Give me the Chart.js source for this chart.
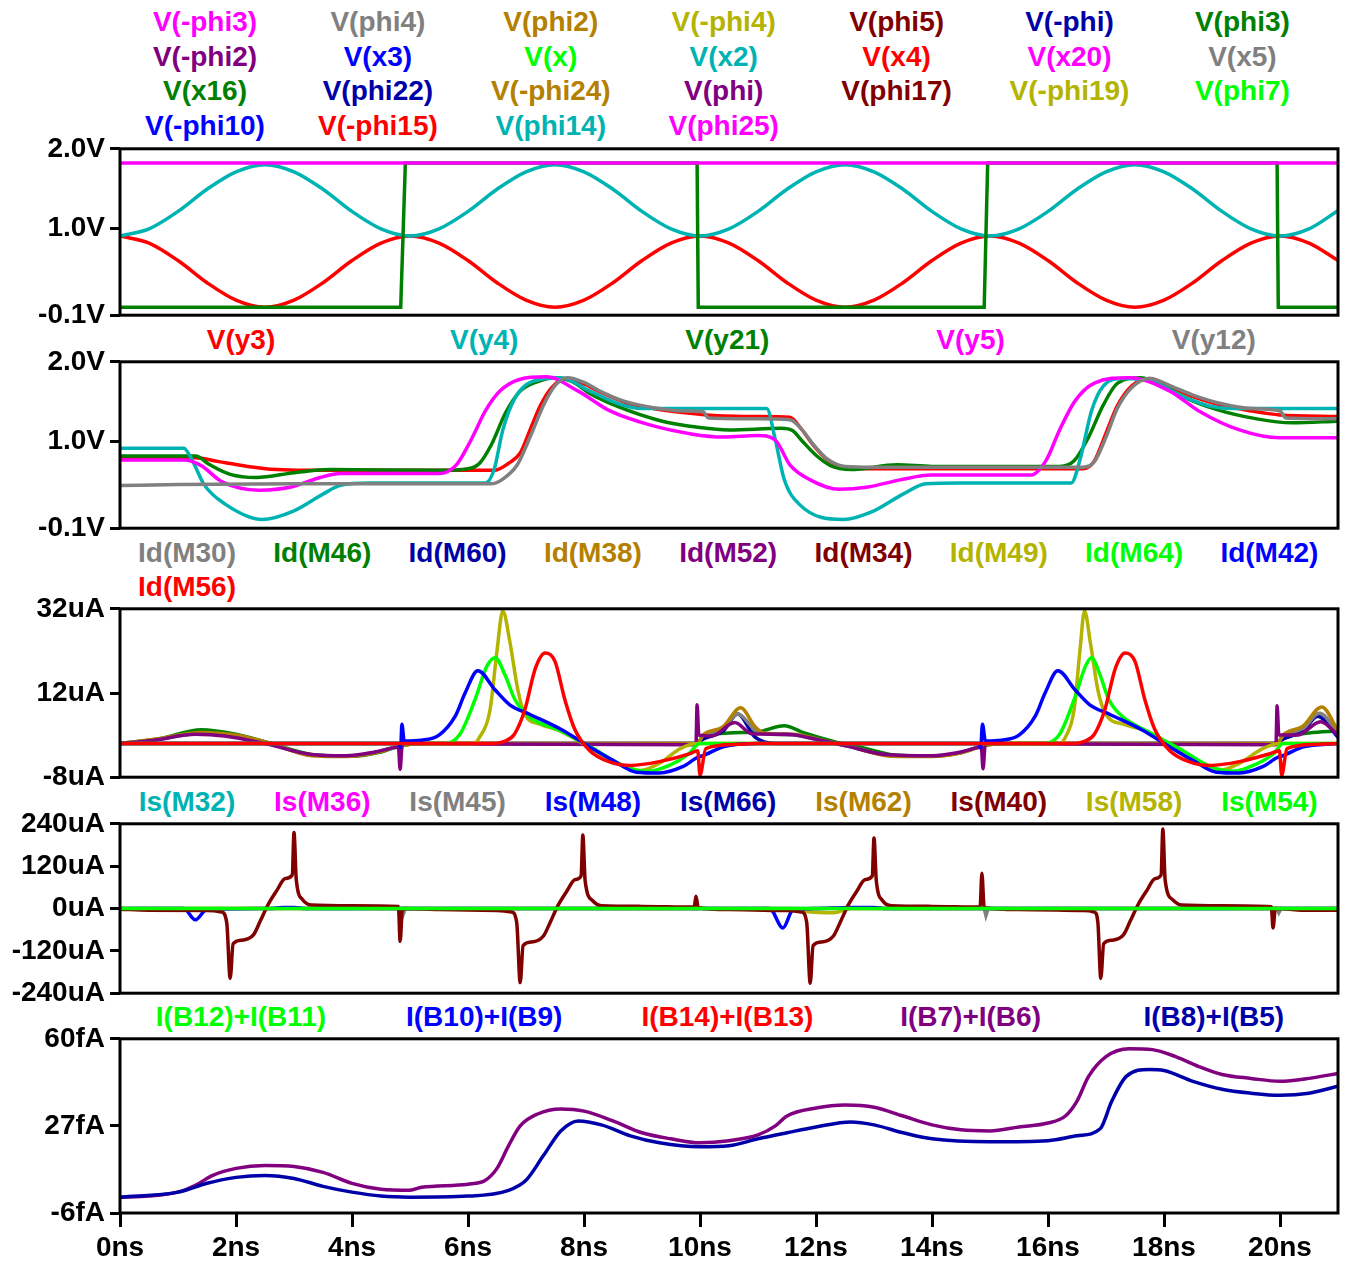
<!DOCTYPE html>
<html><head><meta charset="utf-8">
<script src="https://cdn.jsdelivr.net/npm/chart.js@4/dist/chart.umd.min.js"></script>
<style>
html,body{margin:0;padding:0;background:#fff;width:1350px;height:1264px;overflow:hidden;position:relative;}
canvas{position:absolute;left:0;}
.lg{position:absolute;font:bold 28px "Liberation Sans",Arial,sans-serif;white-space:nowrap;transform:translate(-50%,-50%);line-height:1;}
</style></head><body>
<script>
// ---------- colours ----------
const C = {mag:'#ff00ff', gray:'#808080', gold:'#b38000', olive:'#b3b300', maroon:'#800000', navy:'#0000a8',
  green:'#008000', purple:'#800080', blue:'#0000ff', lime:'#00ff00', teal:'#00b3b3', red:'#ff0000'};

// ---------- x axis ----------
const xTicks = [0,2,4,6,8,10,12,14,16,18,20];

// ---------- legends ----------
const legend1 = [
 ['V(-phi3)','mag'],['V(phi4)','gray'],['V(phi2)','gold'],['V(-phi4)','olive'],['V(phi5)','maroon'],['V(-phi)','navy'],['V(phi3)','green'],
 ['V(-phi2)','purple'],['V(x3)','blue'],['V(x)','lime'],['V(x2)','teal'],['V(x4)','red'],['V(x20)','mag'],['V(x5)','gray'],
 ['V(x16)','green'],['V(phi22)','navy'],['V(-phi24)','gold'],['V(phi)','purple'],['V(phi17)','maroon'],['V(-phi19)','olive'],['V(phi7)','lime'],
 ['V(-phi10)','blue'],['V(-phi15)','red'],['V(phi14)','teal'],['V(phi25)','mag']];
const legend2 = [['V(y3)','red'],['V(y4)','teal'],['V(y21)','green'],['V(y5)','mag'],['V(y12)','gray']];
const legend3 = [['Id(M30)','gray'],['Id(M46)','green'],['Id(M60)','navy'],['Id(M38)','gold'],['Id(M52)','purple'],
 ['Id(M34)','maroon'],['Id(M49)','olive'],['Id(M64)','lime'],['Id(M42)','blue'],['Id(M56)','red']];
const legend4 = [['Is(M32)','teal'],['Is(M36)','mag'],['Is(M45)','gray'],['Is(M48)','blue'],['Is(M66)','navy'],
 ['Is(M62)','gold'],['Is(M40)','maroon'],['Is(M58)','olive'],['Is(M54)','lime']];
const legend5 = [['I(B12)+I(B11)','lime'],['I(B10)+I(B9)','blue'],['I(B14)+I(B13)','red'],['I(B7)+I(B6)','purple'],['I(B8)+I(B5)','navy']];

// ---------- panel 1 data (V) ----------
const t1 = [0,0.5,1,1.5,2,2.5,3,3.5,4,4.5,5,5.5,6,6.5,7,7.5,8,8.5,9,9.5,10,10.5,11,11.5,12,12.5,13,13.5,14,14.5,15,15.5,16,16.5,17,17.5,18,18.5,19,19.5,20,20.5,21];
const vX2 = [0.9,0.99,1.21,1.49,1.71,1.8,1.71,1.49,1.21,0.99, 0.9,0.99,1.21,1.49,1.71,1.8,1.71,1.49,1.21,0.99,
             0.9,0.99,1.21,1.49,1.71,1.8,1.71,1.49,1.21,0.99, 0.9,0.99,1.21,1.49,1.71,1.8,1.71,1.49,1.21,0.99, 0.9,0.99,1.22];
const vX4 = [0.9,0.81,0.59,0.31,0.09,0.0,0.09,0.31,0.59,0.81, 0.9,0.81,0.59,0.31,0.09,0.0,0.09,0.31,0.59,0.81,
             0.9,0.81,0.59,0.31,0.09,0.0,0.09,0.31,0.59,0.81, 0.9,0.81,0.59,0.31,0.09,0.0,0.09,0.31,0.59,0.81, 0.9,0.81,0.59];
const vMinusPhi3 = [[0,1.82],[21,1.82]];
const vPhi3 = [[0,0],[4.84,0],[4.92,1.82],[9.95,1.82],[9.97,0],[14.9,0],[14.96,1.82],[19.95,1.82],[19.97,0],[21,0]];

// ---------- panel 2 data (V) ----------
const vY3 = [[0,0.79],[1.3,0.79],[1.7,0.74],[2.2,0.68],[2.7,0.64],[3.2,0.63],[6.45,0.63],[6.7,0.72],[6.9,0.85],[7.07,1.14],[7.25,1.45],[7.45,1.68],[7.7,1.79],
 [8.0,1.72],[8.3,1.61],[8.7,1.49],[9.2,1.41],[9.7,1.36],[10.3,1.32],[11.0,1.31],[11.55,1.3],[11.75,1.15],[11.95,0.95],[12.2,0.76],[12.5,0.67],[13,0.65],
 [16.6,0.65],[16.8,0.75],[17.0,1.1],[17.2,1.45],[17.45,1.7],[17.75,1.79],[18.1,1.69],[18.5,1.56],[19.0,1.45],[19.5,1.38],[20.0,1.33],[21,1.31]];
const vY4 = [[0,0.91],[1.1,0.91],[1.25,0.75],[1.45,0.45],[1.8,0.21],[2.45,0.01],[3.0,0.12],[3.5,0.33],[3.8,0.44],[4.3,0.47],[6.3,0.47],[6.45,0.64],[6.6,1.14],
 [6.8,1.53],[7.1,1.75],[7.6,1.8],[8.1,1.63],[8.6,1.47],[9.0,1.41],[11.15,1.41],[11.3,1.01],[11.45,0.52],[11.7,0.21],[12.47,0.01],[13.0,0.12],[13.5,0.33],
 [13.9,0.46],[14.5,0.47],[16.4,0.47],[16.55,0.76],[16.75,1.38],[16.95,1.69],[17.3,1.79],[17.8,1.75],[18.3,1.57],[18.8,1.44],[19.2,1.41],[21,1.41]];
const vY21 = [[0,0.81],[1.3,0.81],[1.55,0.7],[1.9,0.58],[2.35,0.54],[3.0,0.6],[3.6,0.64],[5.5,0.63],[6.0,0.65],[6.2,0.72],[6.4,0.95],[6.65,1.36],[6.9,1.63],
 [7.2,1.75],[7.5,1.8],[7.8,1.75],[8.1,1.6],[8.6,1.43],[9.3,1.26],[10.0,1.17],[10.5,1.14],[11.4,1.16],[11.6,1.13],[11.75,1.01],[12.0,0.82],[12.25,0.69],
 [12.6,0.64],[13.4,0.7],[14,0.68],[16.2,0.68],[16.45,0.75],[16.7,1.05],[16.95,1.45],[17.2,1.73],[17.6,1.8],[18.0,1.7],[18.3,1.57],[18.9,1.4],[19.6,1.28],
 [20.2,1.23],[21,1.25]];
const vY5 = [[0,0.76],[1.1,0.76],[1.4,0.69],[1.75,0.49],[2.4,0.38],[2.95,0.42],[3.45,0.54],[3.8,0.59],[5.5,0.59],[5.8,0.7],[6.05,1.01],[6.3,1.38],[6.55,1.63],
 [6.9,1.78],[7.35,1.81],[7.9,1.63],[8.45,1.38],[9.15,1.2],[9.85,1.09],[10.4,1.05],[11.0,1.07],[11.3,1.01],[11.55,0.7],[11.9,0.51],[12.4,0.39],[12.9,0.42],
 [13.45,0.51],[14.0,0.57],[15.7,0.57],[15.97,0.76],[16.2,1.14],[16.47,1.51],[16.8,1.73],[17.4,1.8],[18.1,1.63],[18.6,1.38],[19.3,1.14],[20.0,1.04],[21,1.04]];
const vY12 = [[0,0.44],[1.0,0.45],[3.0,0.46],[6.4,0.46],[6.6,0.52],[6.85,0.7],[7.07,1.05],[7.3,1.45],[7.5,1.7],[7.72,1.8],[8.0,1.74],[8.3,1.62],[8.7,1.5],
 [9.2,1.42],[9.7,1.38],[10.05,1.37],[10.15,1.29],[11.0,1.28],[11.55,1.27],[11.75,1.15],[11.95,0.96],[12.2,0.77],[12.5,0.68],[13,0.67],[16.6,0.67],[16.8,0.74],
 [17.0,1.05],[17.2,1.42],[17.45,1.68],[17.75,1.79],[18.1,1.7],[18.5,1.58],[19.0,1.47],[19.5,1.41],[20.0,1.38],[20.1,1.29],[21,1.28]];

// ---------- panel 3 data (uA) ----------
const idM52 = [[0,0],[0.6,0.8],[1.3,2.2],[1.8,1.8],[2.5,0],[3.3,-2.6],[3.9,-2.9],[4.4,-2.0],[4.8,-0.9],[4.83,-6.1],[4.86,-1.0],[4.9,0],[9.93,-0.3],[9.95,9.2],
 [9.98,2.0],[10.2,1.8],[10.6,5.0],[10.9,2.3],[11.5,2.2],[12.0,1.0],[12.5,-0.5],[13.2,-2.6],[14.0,-2.9],[14.5,-2.0],[14.85,-0.9],[14.88,-6.0],[14.92,0],
 [19.93,-0.3],[19.95,9.0],[19.98,2.0],[20.3,2.0],[20.7,5.2],[21,2.0]];
const idM38 = [[0,0],[0.6,1.0],[1.4,2.6],[2.0,2.0],[2.6,0],[3.3,-2.9],[3.9,-3.1],[4.4,-2.2],[4.85,-0.5],[5.2,0],[9.95,0],[10.05,2.0],[10.4,4.0],[10.7,8.5],
 [10.95,4.0],[11.1,2.5],[11.6,2.2],[12.1,0.8],[12.6,-0.8],[13.3,-3.0],[14.0,-3.1],[14.5,-2.2],[14.9,-0.5],[15.2,0],[19.95,0],[20.05,2.0],[20.4,4.2],[20.72,8.7],[21,3.0]];
const idM30 = [[0,0],[0.6,0.9],[1.4,2.4],[2.0,1.8],[2.6,0],[3.3,-2.8],[3.9,-3.0],[4.4,-2.1],[4.85,-0.5],[5.2,0],[9.95,0],[10.05,1.8],[10.4,3.5],[10.65,7.0],
 [10.95,3.2],[11.1,2.3],[11.6,2.0],[12.1,0.7],[12.6,-0.8],[13.3,-2.9],[14.0,-3.0],[14.5,-2.1],[14.9,-0.5],[15.2,0],[19.95,0],[20.05,1.8],[20.4,3.6],[20.68,7.2],[21,2.5]];
const idM46 = [[0,0],[0.7,1.2],[1.4,3.3],[2.0,2.2],[2.6,0],[3.4,-2.8],[4.0,-3.0],[4.5,-2.0],[4.85,-0.5],[5.2,0],[9.95,0],[10.05,1.5],[10.5,2.5],[11.0,2.8],
 [11.45,4.2],[11.8,2.5],[12.3,0.5],[12.8,-1.0],[13.4,-2.8],[14.0,-3.0],[14.5,-2.2],[14.88,-0.5],[15.2,0],[19.95,0],[20.05,1.2],[20.5,2.5],[21,3.0]];
const idM60 = [[0,0],[9.95,0],[10.05,1.0],[10.4,3.0],[10.65,7.0],[10.95,1.5],[11.3,0],[19.95,0],[20.05,1.0],[20.4,3.0],[20.65,6.5],[21,1.5]];
const idM49 = [[0,0],[6.1,0],[6.2,1.5],[6.38,8.0],[6.5,22.0],[6.6,31.5],[6.72,24.3],[6.86,12.7],[6.98,6.9],[7.24,4.6],[7.6,2.9],[8.28,-2.4],[8.6,-4.7],[8.97,-6.4],
 [9.3,-4.7],[9.66,-1.2],[9.95,0],[16.2,0],[16.3,1.5],[16.45,8.0],[16.55,22.0],[16.63,31.5],[16.73,24.0],[16.86,12.7],[17.0,6.9],[17.3,4.6],[17.7,2.9],
 [18.3,-2.4],[18.6,-4.7],[18.95,-6.4],[19.3,-4.7],[19.7,-1.2],[20,0],[21,0]];
const idM64 = [[0,0],[5.6,0],[5.86,2.2],[6.12,10.4],[6.33,18.5],[6.47,20.4],[6.64,16.2],[6.81,10.4],[7.07,6.2],[7.6,3.0],[8.2,-1.5],[8.7,-5.5],[9.1,-6.6],
 [9.5,-5.0],[9.8,-2.5],[10.0,0],[15.9,0],[16.2,2.2],[16.45,10.4],[16.65,18.5],[16.75,20.4],[16.9,16.2],[17.05,10.4],[17.3,6.2],[17.7,3.0],[18.3,-1.5],
 [18.8,-5.5],[19.2,-6.6],[19.6,-4.8],[19.9,-2.3],[20.05,0],[21,0]];
const idM42 = [[0,0],[4.8,0],[4.84,-1.0],[4.86,4.6],[4.9,0.6],[5.2,0.8],[5.5,2.0],[5.78,6.5],[5.95,12.0],[6.17,17.3],[6.47,12.7],[6.72,9.2],[7.07,6.9],
 [7.6,3.4],[8.1,-0.8],[8.5,-4.0],[8.9,-6.8],[9.3,-7.0],[9.7,-5.5],[9.97,-3.2],[10.05,-2.9],[10.4,-0.8],[11.0,0],[14.8,0],[14.84,-1.0],[14.87,4.6],
 [14.92,0.6],[15.2,0.8],[15.5,2.0],[15.78,6.5],[15.95,12.0],[16.17,17.3],[16.47,12.7],[16.72,9.2],[17.07,6.9],[17.6,3.4],[18.1,-0.8],[18.5,-4.0],
 [18.9,-6.8],[19.3,-7.0],[19.7,-5.5],[19.97,-3.2],[20.05,-2.9],[20.4,-0.8],[21,0]];
const idM56 = [[0,0],[6.4,0],[6.64,0.6],[6.8,2.2],[6.98,8.0],[7.16,17.8],[7.33,21.5],[7.5,19.5],[7.67,10.4],[7.84,3.4],[8.1,-1.7],[8.45,-4.4],[8.8,-5.2],
 [9.3,-4.3],[9.83,-2.4],[9.96,-1.7],[10.0,-7.5],[10.1,-1.2],[10.6,-0.2],[11.0,0],[16.4,0],[16.64,0.6],[16.8,2.2],[16.98,8.0],[17.16,17.8],[17.33,21.5],
 [17.5,19.5],[17.67,10.4],[17.84,3.4],[18.1,-1.7],[18.45,-4.4],[18.8,-5.2],[19.3,-4.3],[19.83,-2.4],[19.99,-1.7],[20.03,-7.5],[20.12,-1.2],[20.6,-0.2],[21,0]];

// ---------- panel 4 data (uA) ----------
const isM40 = [[0,-2],[0.5,-5],[1.5,-6],[1.75,-10],[1.84,-40],[1.9,-198],[1.95,-100],[2.1,-90],[2.3,-75],[2.42,-35],[2.55,10],[2.7,50],[2.85,85],[2.97,95],
 [3.0,215],[3.04,80],[3.15,25],[3.3,10],[4.0,8],[4.8,6],[4.83,-93],[4.87,0],[5.5,-3],[6.5,-6],[6.75,-10],[6.84,-40],[6.9,-210],[6.95,-105],[7.1,-95],
 [7.3,-78],[7.42,-38],[7.55,8],[7.7,48],[7.85,82],[7.95,92],[7.98,208],[8.02,78],[8.15,22],[8.3,8],[9.0,6],[9.9,4],[9.93,35],[9.97,2],[10.5,-3],
 [11.5,-6],[11.75,-10],[11.84,-40],[11.9,-212],[11.95,-105],[12.1,-95],[12.3,-78],[12.42,-38],[12.55,8],[12.7,48],[12.85,82],[12.97,92],[13.0,200],
 [13.04,78],[13.15,22],[13.3,8],[14.0,6],[14.83,4],[14.86,100],[14.9,2],[15.5,-3],[16.6,-6],[16.8,-10],[16.86,-40],[16.91,-198],[16.96,-100],[17.1,-90],
 [17.3,-75],[17.42,-35],[17.55,10],[17.7,50],[17.85,85],[17.95,95],[17.98,225],[18.02,80],[18.15,25],[18.3,10],[19.0,8],[19.85,5],[19.88,-55],[19.92,0],
 [20.5,-5],[21,-5]];
const isM48 = [[0,0],[1.1,0],[1.3,-32],[1.5,-2],[2.6,0],[2.8,3],[3.0,3],[3.2,0],[11.2,0],[11.43,-55],[11.6,-5],[12.0,0],[12.6,3],[13.0,3],[13.2,0],[21,0]];
const isM58 = [[0,0],[11.6,0],[11.9,-10],[12.3,-12],[12.6,0],[21,0]];
const isM45 = [[0,0],[4.85,0],[4.88,-18],[4.92,0],[14.9,0],[14.93,-20],[14.97,0],[19.95,0],[19.98,-12],[20.02,0],[21,0]];
const isM54 = [[0,0],[21,0]];

// ---------- panel 5 data (fA) ----------
const iB7B6 = [[0,0],[0.5,0.4],[1.0,1.9],[1.3,4.5],[1.6,8.25],[2.0,10.9],[2.5,12.0],[3.0,11.6],[3.5,9.4],[4.0,5.25],[4.5,3.0],[5.0,2.6],[5.2,3.75],[6.0,4.9],
 [6.3,6.4],[6.5,10.9],[6.7,19.5],[6.9,27.0],[7.2,31.5],[7.6,33.4],[8.0,32.6],[8.5,28.9],[9.0,24.4],[9.5,22.1],[10.0,20.6],[10.5,21.4],[11.0,23.6],
 [11.3,27.0],[11.5,30.75],[12.0,33.75],[12.5,34.9],[13.0,34.1],[13.5,30.75],[14.0,27.4],[14.5,25.5],[15.0,25.1],[15.5,26.6],[16.0,28.1],[16.3,30.75],
 [16.5,36.4],[16.7,45.75],[17.0,53.25],[17.4,56.25],[17.8,55.9],[18.2,53.25],[18.6,49.5],[19.0,46.5],[19.5,45.0],[20.0,43.9],[20.5,45.0],[21,46.9]];
const iB8B5 = [[0,0],[1.0,1.9],[1.5,5.25],[2.0,7.5],[2.5,8.25],[3.0,7.1],[3.5,4.1],[4.0,1.9],[4.5,0.4],[5.0,0],[6.0,0.4],[6.7,2.6],[7.0,6.4],[7.3,15.75],
 [7.6,25.1],[7.9,28.9],[8.3,27.4],[8.8,23.25],[9.3,20.6],[10.0,19.1],[10.5,19.5],[11.0,22.1],[11.5,24.4],[12.0,26.6],[12.6,28.5],[13.0,27.4],[13.5,24.4],
 [14.0,22.1],[15.0,21.0],[16.0,21.4],[16.5,23.25],[16.9,25.9],[17.1,36.4],[17.35,45.75],[17.75,48.4],[18.0,48.0],[18.5,43.9],[19.0,40.9],[19.5,39.4],
 [20.0,38.6],[20.5,39.4],[21,42.0]];

// ---------- helpers ----------
const FONT = '"Liberation Sans", Arial, sans-serif';
const pairs = a => a.map(p => ({x:p[0], y:p[1]}));
const zip = (t, v) => t.map((x, i) => ({x, y:v[i]}));
function ds(data, col, smooth){
  return {data, borderColor:C[col], borderWidth:3.5, pointRadius:0, fill:false,
          tension: smooth ? 0.4 : 0, cubicInterpolationMode: smooth ? 'monotone' : 'default'};
}
const framePlugin = {id:'frame', afterDatasetsDraw(c){
  const a=c.chartArea, x=c.ctx; x.save(); x.strokeStyle='#000'; x.lineWidth=3;
  x.strokeRect(a.left, a.top, a.right-a.left, a.bottom-a.top); x.restore(); }};

function legend(items, x0, dx, y0, dy, perRow){
  items.forEach((it, i) => {
    const d = document.createElement('div'); d.className='lg';
    d.textContent = it[0]; d.style.color = C[it[1]];
    d.style.left = (x0 + (i % perRow) * dx) + 'px';
    d.style.top = (y0 + Math.floor(i / perRow) * dy) + 'px';
    document.body.appendChild(d);
  });
}

function panel(p, datasets){
  const padTop = 20, xH = 52;
  const showX = !!p.xaxis;
  const h = padTop + p.h + (showX ? xH : 20);
  const cv = document.createElement('canvas');
  cv.width = 1350; cv.height = h; cv.style.top = (p.top - padTop) + 'px';
  document.body.appendChild(cv);
  const tickFont = {family:FONT, size:28, weight:'bold'};
  new Chart(cv, {type:'line', data:{datasets}, plugins:[framePlugin], options:{
    responsive:false, animation:false, events:[],
    layout:{padding:{top:padTop, bottom:showX ? 0 : 20, left:0, right:12}, autoPadding:false},
    plugins:{legend:{display:false}, tooltip:{enabled:false}},
    scales:{
      x:{type:'linear', min:0, max:21, display:showX,
         afterBuildTicks:s => { s.ticks = xTicks.map(v => ({value:v})); },
         afterFit:s => { s.height = showX ? xH : 0; },
         ticks:{callback:v => v + 'ns', font:tickFont, color:'#000', padding:4, maxRotation:0, autoSkip:false},
         grid:{drawOnChartArea:false, drawTicks:true, tickLength:14, tickWidth:3, tickColor:'#000'},
         border:{display:false}},
      y:{type:'linear', min:p.ymin, max:p.ymax,
         afterBuildTicks:s => { s.ticks = p.yticks.map(v => ({value:v})); },
         afterFit:s => { s.width = 120; },
         ticks:{callback:v => p.fmt(v), font:tickFont, color:'#000', padding:5},
         grid:{drawOnChartArea:false, drawTicks:true, tickLength:10, tickWidth:3, tickColor:'#000'},
         border:{display:false}}
    }}});
}

// ---------- legends ----------
legend(legend1, 205, 172.9, 22, 34.5, 7);
legend(legend2, 241, 243.2, 340, 0, 5);
legend(legend3, 187, 135.3, 553, 34, 9);
legend(legend4, 187, 135.3, 802, 0, 9);
legend(legend5, 241, 243.2, 1017, 0, 5);

// ---------- panels ----------
const fmtV = v => v.toFixed(1) + 'V';
panel({top:147, h:170, ymin:-0.1, ymax:2.0, yticks:[-0.1,1.0,2.0], fmt:fmtV}, [
  ds(pairs(vMinusPhi3),'mag',false), ds(pairs(vPhi3),'green',false),
  ds(zip(t1,vX2),'teal',true), ds(zip(t1,vX4),'red',true)]);
panel({top:360, h:170, ymin:-0.1, ymax:2.0, yticks:[-0.1,1.0,2.0], fmt:fmtV}, [
  ds(pairs(vY12),'gray',true), ds(pairs(vY5),'mag',true), ds(pairs(vY4),'teal',true),
  ds(pairs(vY21),'green',true), ds(pairs(vY3),'red',true)]);
panel({top:607, h:172, ymin:-8, ymax:32, yticks:[-8,12,32], fmt:v => v + 'uA'}, [
  ds(pairs(idM56),'red',true), ds(pairs(idM42),'blue',true), ds(pairs(idM64),'lime',true),
  ds(pairs(idM49),'olive',true), ds(pairs(idM52),'purple',true), ds(pairs(idM38),'gold',true),
  ds(pairs(idM30),'gray',true), ds(pairs(idM60),'navy',true), ds(pairs(idM46),'green',true)]);
panel({top:822, h:173, ymin:-240, ymax:240, yticks:[-240,-120,0,120,240], fmt:v => v + 'uA'}, [
  ds(pairs(isM54),'lime',false), ds(pairs(isM40),'maroon',true), ds(pairs(isM48),'blue',true),
  ds(pairs(isM58),'olive',true), ds(pairs(isM45),'gray',false)]);
panel({top:1037, h:176, ymin:-6, ymax:60, yticks:[-6,27,60], fmt:v => v + 'fA', xaxis:true}, [
  ds(pairs(iB8B5),'navy',true), ds(pairs(iB7B6),'purple',true)]);
</script>
</body></html>
